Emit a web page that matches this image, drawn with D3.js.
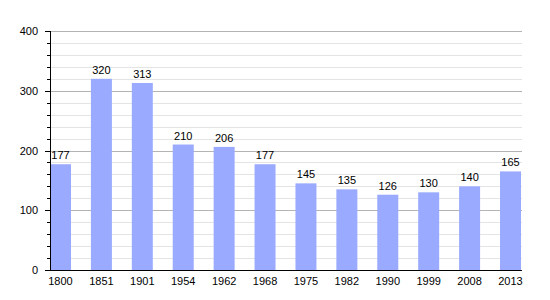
<!DOCTYPE html>
<html>
<head>
<meta charset="utf-8">
<script src="https://cdn.jsdelivr.net/npm/d3@7"></script>
<style>
body{margin:0;background:#fff;}
text{font-family:"Liberation Sans",Arial,sans-serif;}
</style>
</head>
<body>
<svg id="chart" width="550" height="300"></svg>
<script>
// population per census year
var years = ["1800","1851","1901","1954","1962","1968","1975","1982","1990","1999","2008","2013"];
var pop = [177,320,313,210,206,177,145,135,126,130,140,165];
var yTicks = [0,100,200,300,400];

var svg = d3.select("#chart");
// plot area edges (note: "top" is taken by window.top)
var padL = 50, padR = 521, padT = 31, padB = 270;

var x = d3.scaleBand().domain(years).range([padL, padR]).paddingInner(0.487).paddingOuter(0);
var y = d3.scaleLinear().domain([0,400]).range([padB, padT]);

function py(d){ return Math.round(y(d)) + 0.5; }

// minor grid every 20
var minor = d3.range(20, 400, 20).filter(function(v){return v % 100 != 0;});
svg.selectAll(".minor").data(minor).enter().append("line")
  .attr("x1", padL).attr("x2", padR+1)
  .attr("y1", py).attr("y2", py)
  .attr("stroke", "#e4e4e4");
svg.selectAll(".major").data(yTicks.slice(1)).enter().append("line")
  .attr("x1", padL).attr("x2", padR+1)
  .attr("y1", py).attr("y2", py)
  .attr("stroke", "#b4b4b4");

// bars
svg.selectAll(".bar").data(pop).enter().append("rect")
  .attr("x", (d,i) => x(years[i]))
  .attr("width", x.bandwidth())
  .attr("y", d => y(d))
  .attr("height", d => padB - y(d))
  .attr("fill", "#99aaff");

svg.selectAll(".val").data(pop).enter().append("text")
  .attr("x", (d,i) => x(years[i]) + x.bandwidth()/2)
  .attr("y", d => y(d) - 5)
  .attr("text-anchor", "middle")
  .attr("font-size", 11)
  .text(d => d);

// y axis ticks
svg.selectAll(".mt").data(minor).enter().append("line")
  .attr("x1", padL-3).attr("x2", padL)
  .attr("y1", py).attr("y2", py)
  .attr("stroke", "#000");
svg.selectAll(".Mt").data(yTicks).enter().append("line")
  .attr("x1", padL-5).attr("x2", padL)
  .attr("y1", py).attr("y2", py)
  .attr("stroke", "#000");
svg.selectAll(".yl").data(yTicks).enter().append("text")
  .attr("x", padL-12).attr("y", d => y(d)+4)
  .attr("text-anchor", "end")
  .attr("font-size", 11)
  .text(d => d);

// axis lines
svg.append("line").attr("x1", padL+0.5).attr("x2", padL+0.5).attr("y1", padT).attr("y2", padB+1).attr("stroke", "#000");
svg.append("line").attr("x1", padL).attr("x2", padR+1).attr("y1", padB+0.5).attr("y2", padB+0.5).attr("stroke", "#000");

// x labels
svg.selectAll(".xl").data(years).enter().append("text")
  .attr("x", d => x(d) + x.bandwidth()/2)
  .attr("y", padB + 15)
  .attr("text-anchor", "middle")
  .attr("font-size", 11)
  .text(d => d);
</script>
</body>
</html>
